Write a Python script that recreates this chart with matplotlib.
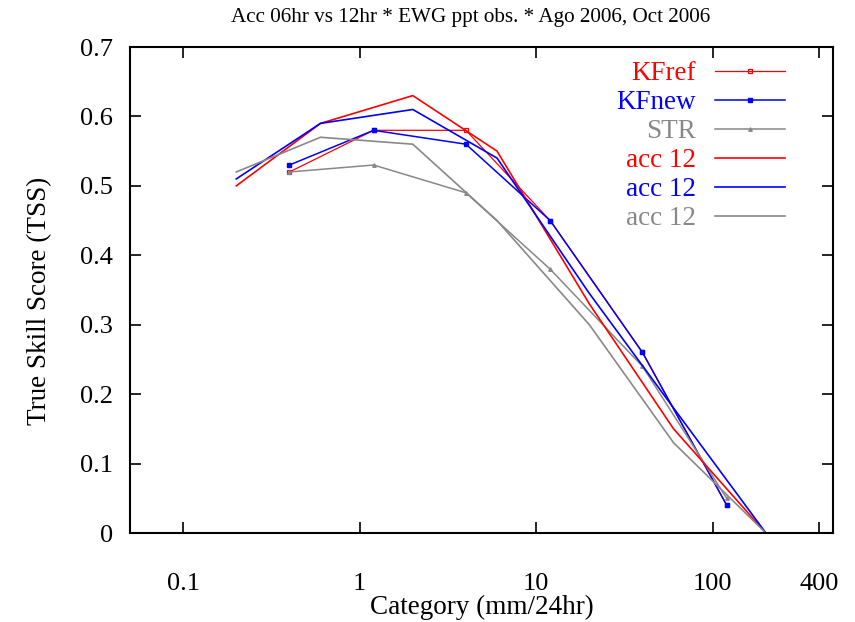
import matplotlib
matplotlib.use("Agg")
import matplotlib.pyplot as plt

# categories (mm/24hr)
cat_kf = [0.4, 1.2, 4, 12, 40, 120]
cat_acc = [0.2, 0.6, 2, 6, 20, 60, 200]

# TSS values
kfref = [0.52, 0.58, 0.58, 0.45, 0.26, 0.04]
kfnew = [0.53, 0.58, 0.56, 0.45, 0.26, 0.04]
str_tss = [0.52, 0.53, 0.49, 0.38, 0.24, 0.05]
acc_red = [0.50, 0.59, 0.63, 0.55, 0.33, 0.15, 0.0]
acc_blue = [0.51, 0.59, 0.61, 0.54, 0.345, 0.18, 0.0]
acc_gray = [0.52, 0.57, 0.56, 0.45, 0.30, 0.13, 0.0]

xticks = [0.1, 1, 10, 100, 400]
xticklabels = ["0.1", "1", "10", "100", "400"]
yticks = [0, 0.1, 0.2, 0.3, 0.4, 0.5, 0.6, 0.7]

RED, BLUE, GRAY = "#ff0000", "#0000ff", "#888888"

plt.rcParams["font.family"] = ["Liberation Serif", "DejaVu Serif"]

fig = plt.figure(figsize=(8.55, 6.22), dpi=100)
ax = fig.add_axes([130 / 855, 1 - 533 / 622, 703 / 855, 486 / 622])

ax.plot(cat_kf, kfref, color=RED, lw=0.9, marker="s", ms=3.5,
        mfc="none", mec=RED, mew=0.9, label="KFref")
ax.plot(cat_kf, kfnew, color=BLUE, lw=1.1, marker="s", ms=3.5,
        mfc=BLUE, mec=BLUE, label="KFnew")
ax.plot(cat_kf, str_tss, color=GRAY, lw=1.1, marker="^", ms=2.5,
        mfc=GRAY, mec=GRAY, label="STR")
ax.plot(cat_acc, acc_red, color=RED, lw=1.2, label="acc 12")
ax.plot(cat_acc, acc_blue, color=BLUE, lw=1.2, label="acc 12")
ax.plot(cat_acc, acc_gray, color=GRAY, lw=1.2, label="acc 12")

ax.set_xscale("log")
ax.set_xlim(0.05, 480)
ax.set_ylim(0, 0.7)
ax.set_xticks(xticks)
ax.set_xticklabels(xticklabels)
ax.xaxis.set_minor_locator(matplotlib.ticker.NullLocator())
ax.set_yticks(yticks)
ax.set_yticklabels(["0", "0.1", "0.2", "0.3", "0.4", "0.5", "0.6", "0.7"])

ax.tick_params(axis="both", which="major", direction="in", length=8, width=1.2,
               top=True, right=True, labelsize=19)
ax.tick_params(axis="x", pad=29)
ax.tick_params(axis="y", pad=12)
for s in ax.spines.values():
    s.set_linewidth(1.5)

ax.set_xlabel("Category (mm/24hr)", fontsize=19.5, labelpad=0)
ax.set_ylabel("True Skill Score (TSS)", fontsize=19.5)
ax.yaxis.set_label_coords(-0.111, 0.477)
ax.set_title("Acc 06hr vs 12hr * EWG ppt obs. * Ago 2006, Oct 2006",
             fontsize=15.2, pad=18, x=0.485)

leg = ax.legend(loc="upper right", bbox_to_anchor=(0.932, 0.971), frameon=False,
                markerfirst=False, numpoints=1, fontsize=19.5, labelcolor="linecolor",
                handlelength=2.6, handletextpad=0.7, labelspacing=0.15,
                borderpad=0, borderaxespad=0)
for t in leg.get_texts():
    t.set_ha("right")

fig.savefig("out.png", dpi=100)
